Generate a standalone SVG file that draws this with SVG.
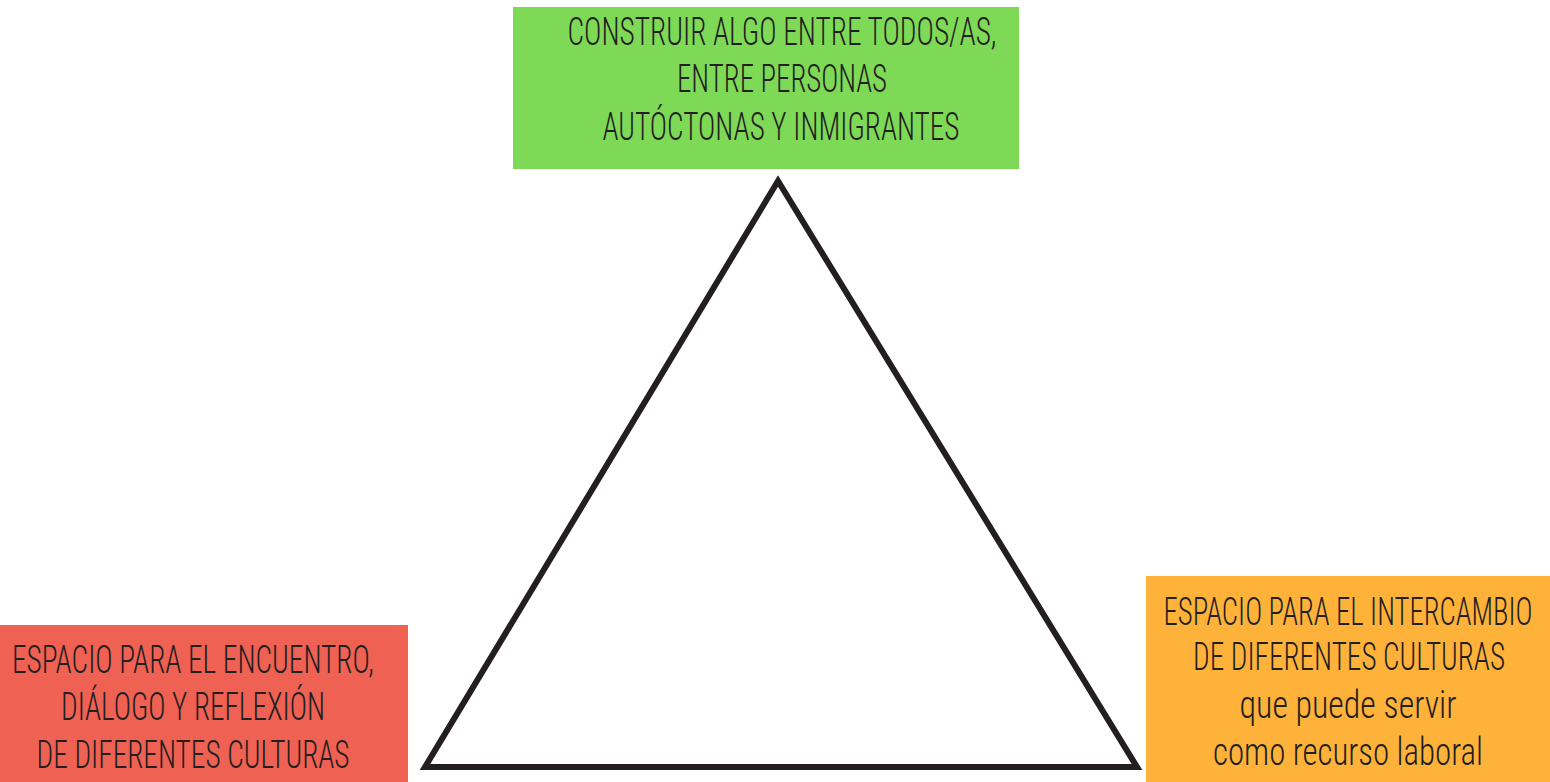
<svg xmlns="http://www.w3.org/2000/svg" width="1550" height="782" viewBox="0 0 1550 782">
<style>
.t{font-family:"Roboto Condensed","Liberation Sans Narrow","Roboto","Liberation Sans",sans-serif;font-weight:300;font-size:38px;fill:#231f20;text-anchor:middle}
</style>
<rect x="0" y="0" width="1550" height="782" fill="#ffffff"/>
<g id="connectors">
<polygon points="778,181 425,767 1137,767" fill="none" stroke="#231f20" stroke-width="6" stroke-linejoin="miter"/>
</g>
<g id="node-top">
<rect x="513" y="7" width="506" height="162" fill="#7ed957"/>
<text class="t" x="782" y="45" textLength="429" lengthAdjust="spacingAndGlyphs">CONSTRUIR ALGO ENTRE TODOS/AS,</text>
<text class="t" x="782" y="92" textLength="210" lengthAdjust="spacingAndGlyphs">ENTRE PERSONAS</text>
<text class="t" x="781" y="140" textLength="357" lengthAdjust="spacingAndGlyphs">AUTÓCTONAS Y INMIGRANTES</text>
</g>
<g id="node-left">
<rect x="0" y="625" width="408" height="157" fill="#ef6152"/>
<text class="t" x="193" y="673" textLength="362" lengthAdjust="spacingAndGlyphs">ESPACIO PARA EL ENCUENTRO,</text>
<text class="t" x="193" y="720" textLength="264" lengthAdjust="spacingAndGlyphs">DIÁLOGO Y REFLEXIÓN</text>
<text class="t" x="193" y="768" textLength="313" lengthAdjust="spacingAndGlyphs">DE DIFERENTES CULTURAS</text>
</g>
<g id="node-right">
<rect x="1146" y="576" width="404" height="206" fill="#ffb23a"/>
<text class="t" x="1348" y="625" textLength="369" lengthAdjust="spacingAndGlyphs">ESPACIO PARA EL INTERCAMBIO</text>
<text class="t" x="1349" y="670" textLength="312" lengthAdjust="spacingAndGlyphs">DE DIFERENTES CULTURAS</text>
<text class="t" x="1348" y="718" textLength="217" lengthAdjust="spacingAndGlyphs">que puede servir</text>
<text class="t" x="1348" y="765" textLength="270" lengthAdjust="spacingAndGlyphs">como recurso laboral</text>
</g>
</svg>
